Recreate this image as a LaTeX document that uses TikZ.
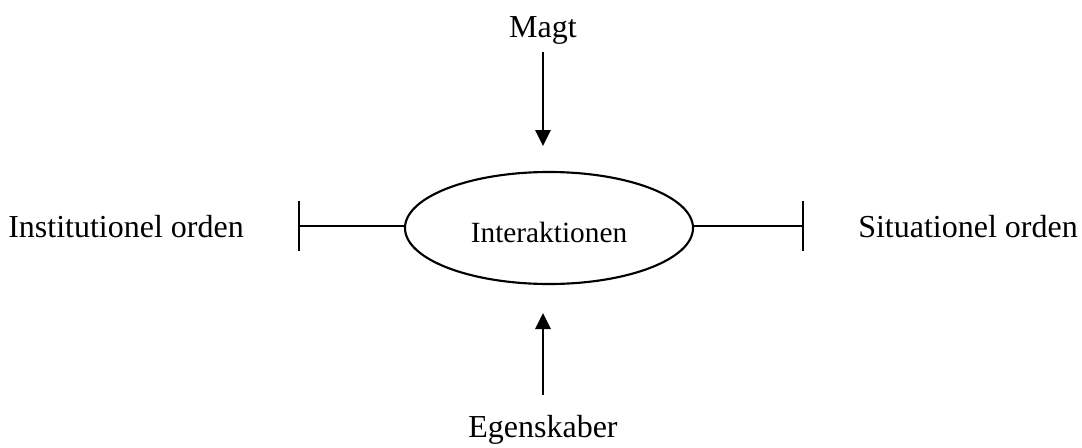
\documentclass[tikz,border=0pt]{standalone}
\usepackage{fontspec}
\setmainfont{Liberation Serif}
\usetikzlibrary{arrows.meta,shapes.geometric}
\begin{document}
\begin{tikzpicture}[x=0.75pt,y=-0.75pt,
  lbl/.style={font=\fontsize{24pt}{28pt}\selectfont, inner sep=0pt, anchor=base},
  conn/.style={line width=1.6pt},
  pointer/.style={conn, -{Triangle[width=11.5pt,length=12pt]}},
  barend/.style={conn, -{Bar[width=37.5pt,line width=1.6pt]}}]
\useasboundingbox (0,0) rectangle (1082,447);
\node[draw, ellipse, line width=1.6pt, minimum width=216pt, minimum height=84pt, inner sep=0pt] (inter) at (549,228) {};
\node[inner sep=0pt, anchor=base, font=\fontsize{22pt}{26pt}\selectfont] (intertext) at (549,242) {Interaktionen};
\node[lbl] (magt) at (543,37) {Magt};
\node[lbl] (egen) at (543,437) {Egenskaber};
\node[lbl, anchor=base west] (inst) at (8,237) {Institutionel orden};
\node[lbl, anchor=base west] (situ) at (858,237) {Situationel orden};
\coordinate (mtop) at (543,52);
\coordinate (mtip) at (543,146);
\coordinate (ebot) at (543,395);
\coordinate (etip) at (543,313);
\coordinate (barL) at (298,226);
\coordinate (barR) at (804,226);
\draw[pointer] (mtop) -- (mtip);
\draw[pointer] (ebot) -- (etip);
\draw[barend] (inter.west |- barL) -- (barL);
\draw[barend] (inter.east |- barR) -- (barR);
\end{tikzpicture}
\end{document}
